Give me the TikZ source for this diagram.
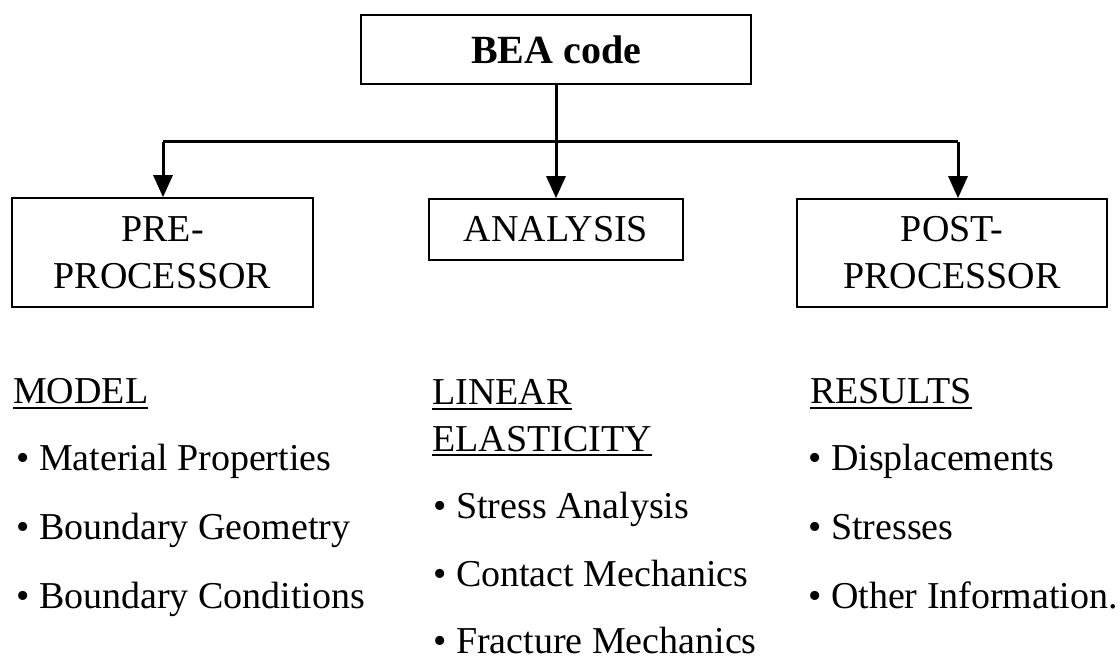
\documentclass[tikz,border=0pt]{standalone}
\usepackage{fontspec}
\setmainfont{Liberation Serif}
\usetikzlibrary{arrows.meta}

\tikzset{
  box/.style={draw=black, line width=1.6pt, rectangle, inner sep=0pt, align=center,
    font=\fontsize{38}{47}\selectfont},
  link/.style={line width=3pt, -{Triangle[width=19pt,length=22pt]}},
  bar/.style={line width=3pt},
  txt/.style={anchor=base west, inner sep=0pt, font=\fontsize{38}{47}\selectfont},
  ul/.style={line width=1.8pt},
}

\begin{document}
\begin{tikzpicture}[x=1pt, y=-1pt]
\useasboundingbox (0,0) rectangle (1120,660);

% top box
\node[box, minimum width=390pt, minimum height=69pt,
      font=\fontsize{40}{48}\selectfont\bfseries] (bea) at (556,49.5) {BEA code};

% module boxes
\node[box, minimum width=301pt, minimum height=109pt] (pre) at (162.5,252.5) {PRE-\\PROCESSOR};
\node[box, minimum width=254pt, minimum height=61pt] (ana) at (556,229.5) {ANALYSIS};
\node[box, minimum width=310pt, minimum height=108pt] (post) at (952,253) {POST-\\PROCESSOR};

\coordinate (jl) at (163,142);
\coordinate (jm) at (556,142);
\coordinate (jr) at (958,142);

% connectors
\draw[bar] (bea.south) -- (jm);
\draw[bar] (jl) -- (jr);
\draw[link] (jl) -- (jl |- pre.north);
\draw[link] (jm) -- (ana.north);
\draw[link] (jr) -- (jr |- post.north);

% left column
\node[txt] (model) at (13,404) {MODEL};
\draw[ul] ([yshift=-4pt]model.base west) -- ([yshift=-4pt]model.base east);
\node[txt] (m1) at (16,471) {\textbullet\ Material Properties};
\node[txt] (m2) at (16,539) {\textbullet\ Boundary Geometry};
\node[txt] (m3) at (16,608) {\textbullet\ Boundary Conditions};

% middle column
\node[txt] (lin1) at (432,405) {LINEAR};
\draw[ul] ([yshift=-4pt]lin1.base west) -- ([yshift=-4pt]lin1.base east);
\node[txt] (lin2) at (432,451) {ELASTICITY};
\draw[ul] ([yshift=-4pt]lin2.base west) -- ([yshift=-4pt]lin2.base east);
\node[txt] (a1) at (433,518) {\textbullet\ Stress Analysis};
\node[txt] (a2) at (433,586) {\textbullet\ Contact Mechanics};
\node[txt] (a3) at (433,653) {\textbullet\ Fracture Mechanics};

% right column
\node[txt] (res) at (810,404) {RESULTS};
\draw[ul] ([yshift=-4pt]res.base west) -- ([yshift=-4pt]res.base east);
\node[txt] (r1) at (808,471) {\textbullet\ Displacements};
\node[txt] (r2) at (808,539) {\textbullet\ Stresses};
\node[txt] (r3) at (808,608) {\textbullet\ Other Information.};
\end{tikzpicture}
\end{document}
